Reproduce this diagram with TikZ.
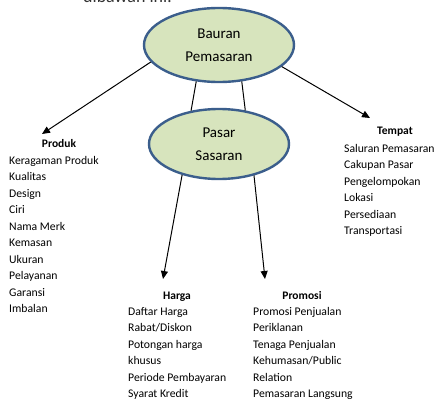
\documentclass[tikz,border=0pt]{standalone}
\usepackage{fontspec}
\setmainfont{Carlito}
\usetikzlibrary{shapes.geometric,arrows.meta}
\definecolor{ellfill}{HTML}{D7E4BD}
\definecolor{elldraw}{HTML}{3B5E8C}
\begin{document}
\begin{tikzpicture}[x=1pt,y=-1pt,
  ell/.style={ellipse, draw=elldraw, line width=2.4pt, fill=ellfill, inner sep=0pt, align=center, font=\fontsize{15}{23}\selectfont},
  head/.style={font=\fontsize{11.5}{16.5}\selectfont\bfseries, inner sep=0pt, anchor=base},
  lst/.style={font=\fontsize{11.7}{16.5}\selectfont, inner sep=0pt, align=left, anchor=north west},
  arr/.style={line width=1pt, -{Triangle[length=8pt,width=7pt]}},
  ln/.style={line width=1pt}]
\useasboundingbox (0,0) rectangle (437,404);
\fill[white] (0,0) rectangle (437,404);
\node[anchor=base west, font=\fontsize{18}{20}\selectfont, inner sep=0pt, text=black!80] (intro) at (83,3) {dibawah ini:};

\node[ell, minimum width=150pt, minimum height=74pt] (b) at (219,45) {Bauran\\Pemasaran};
\node[ell, minimum width=140pt, minimum height=70pt] (p) at (219,144) {Pasar\\Sasaran};

\node[head] (hprod) at (59,147) {Produk};
\node[lst] (lprod) at (9,156) {Keragaman Produk\\Kualitas\\Design\\Ciri\\Nama Merk\\Kemasan\\Ukuran\\Pelayanan\\Garansi\\Imbalan};
\node[head] (htemp) at (395,135) {Tempat};
\node[lst] (ltemp) at (344,144) {Saluran Pemasaran\\Cakupan Pasar\\Pengelompokan\\Lokasi\\Persediaan\\Transportasi};
\node[head] (hharga) at (177,299) {Harga};
\node[lst] (lharga) at (128,307) {Daftar Harga\\Rabat/Diskon\\Potongan harga\\khusus\\Periode Pembayaran\\Syarat Kredit};
\node[head] (hpromo) at (302,299) {Promosi};
\node[lst] (lpromo) at (253,307) {Promosi Penjualan\\Periklanan\\Tenaga Penjualan\\Kehumasan/Public\\Relation\\Pemasaran Langsung};

\coordinate (tprod) at (42,134);
\coordinate (ttemp) at (370,118);
\coordinate (tharga) at (163,279);
\coordinate (tpromo) at (265,279);

\draw[arr] (b.194) -- (tprod);
\draw[arr] (b.341) -- (ttemp);
\draw[ln] (b.238) -- (p.130);
\draw[ln] (b.302) -- (p.52);
\draw[arr] (p.220) -- (tharga);
\draw[arr] (p.318) -- (tpromo);
\end{tikzpicture}
\end{document}
